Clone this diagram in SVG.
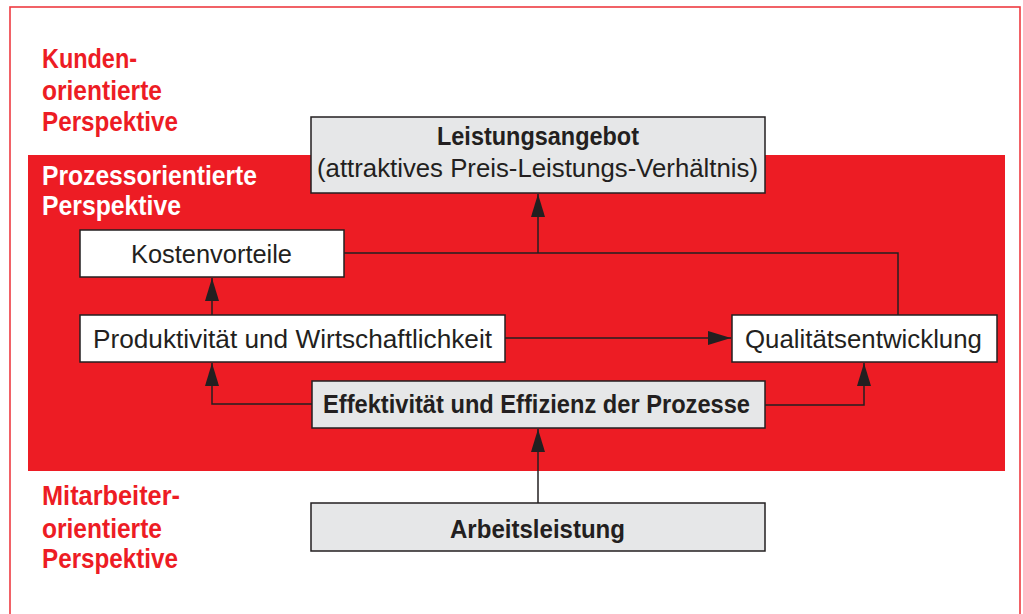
<svg xmlns="http://www.w3.org/2000/svg" width="1023" height="614" viewBox="0 0 1023 614">
  <style>
    .frame { fill: none; stroke: #EE3B41; stroke-width: 1.6; }
    .band { fill: #ED1C24; }
    .box-w { fill: #FFFFFF; stroke: #231F20; stroke-width: 1.5; }
    .box-g { fill: #E6E7E8; stroke: #231F20; stroke-width: 1.5; }
    .lbl { font-family: "Liberation Sans", Arial, sans-serif; font-size: 25px; fill: #231F20; }
    .b { font-weight: bold; }
    .persp { font-family: "Liberation Sans", Arial, sans-serif; font-size: 28px; font-weight: bold; }
    .red { fill: #ED1C24; }
    .white { fill: #FFFFFF; }
    .wire { fill: none; stroke: #231F20; stroke-width: 1.5; }
  </style>
  <defs>
    <marker id="arrow" markerUnits="userSpaceOnUse" markerWidth="24" markerHeight="14" refX="23" refY="7" orient="auto">
      <path d="M0,0 L23,7 L0,14 Z" fill="#231F20"/>
    </marker>
  </defs>

  <rect width="1023" height="614" fill="#FFFFFF"/>
  <rect class="frame" x="10" y="7" width="1010" height="620"/>
  <rect class="band" x="28" y="155" width="977" height="316"/>

  <!-- perspective headings -->
  <g id="customer-perspective" class="persp red">
    <text x="42" y="68" textLength="95" lengthAdjust="spacingAndGlyphs">Kunden-</text>
    <text x="42" y="100" textLength="120" lengthAdjust="spacingAndGlyphs">orientierte</text>
    <text x="42" y="131" textLength="136" lengthAdjust="spacingAndGlyphs">Perspektive</text>
  </g>
  <g id="process-perspective" class="persp white">
    <text x="42" y="185" textLength="215" lengthAdjust="spacingAndGlyphs">Prozessorientierte</text>
    <text x="42" y="215" textLength="139" lengthAdjust="spacingAndGlyphs">Perspektive</text>
  </g>
  <g id="employee-perspective" class="persp red">
    <text x="42" y="505" textLength="138" lengthAdjust="spacingAndGlyphs">Mitarbeiter-</text>
    <text x="42" y="538" textLength="120" lengthAdjust="spacingAndGlyphs">orientierte</text>
    <text x="42" y="568" textLength="136" lengthAdjust="spacingAndGlyphs">Perspektive</text>
  </g>

  <!-- connectors -->
  <g id="connectors" class="wire">
    <path d="M344,253 H898 V315"/>
    <path d="M538,253 V194" marker-end="url(#arrow)"/>
    <path d="M212,315 V278" marker-end="url(#arrow)"/>
    <path d="M505,338 H731" marker-end="url(#arrow)"/>
    <path d="M312,404 H212 V363" marker-end="url(#arrow)"/>
    <path d="M765,405 H864 V363" marker-end="url(#arrow)"/>
    <path d="M538,503 V429" marker-end="url(#arrow)"/>
  </g>

  <!-- nodes -->
  <g id="leistungsangebot">
    <rect class="box-g" x="311" y="117" width="454" height="76"/>
    <text class="lbl b" x="437" y="145" textLength="202" lengthAdjust="spacingAndGlyphs">Leistungsangebot</text>
    <text class="lbl" x="317" y="177" textLength="441" lengthAdjust="spacingAndGlyphs">(attraktives Preis-Leistungs-Verhältnis)</text>
  </g>
  <g id="kostenvorteile">
    <rect class="box-w" x="80" y="230" width="264" height="47"/>
    <text class="lbl" x="131" y="263" textLength="161" lengthAdjust="spacingAndGlyphs">Kostenvorteile</text>
  </g>
  <g id="produktivitaet">
    <rect class="box-w" x="80" y="315" width="425" height="47"/>
    <text class="lbl" x="93" y="348" textLength="399" lengthAdjust="spacingAndGlyphs">Produktivität und Wirtschaftlichkeit</text>
  </g>
  <g id="qualitaet">
    <rect class="box-w" x="732" y="315" width="265" height="47"/>
    <text class="lbl" x="745" y="348" textLength="237" lengthAdjust="spacingAndGlyphs">Qualitätsentwicklung</text>
  </g>
  <g id="effektivitaet">
    <rect class="box-g" x="312" y="381" width="453" height="47"/>
    <text class="lbl b" x="323" y="413" textLength="427" lengthAdjust="spacingAndGlyphs">Effektivität und Effizienz der Prozesse</text>
  </g>
  <g id="arbeitsleistung">
    <rect class="box-g" x="311" y="503" width="454" height="48"/>
    <text class="lbl b" x="450" y="538" textLength="175" lengthAdjust="spacingAndGlyphs">Arbeitsleistung</text>
  </g>
</svg>
